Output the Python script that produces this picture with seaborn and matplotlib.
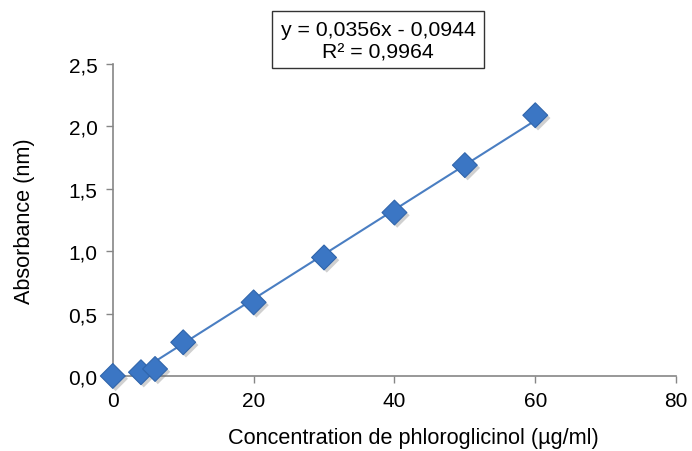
import numpy as np
import pandas as pd
import matplotlib.pyplot as plt
import matplotlib.patheffects as pe
from matplotlib.patches import Rectangle
from matplotlib.ticker import FuncFormatter
import seaborn as sns

concentration = [0, 4, 6, 10, 20, 30, 40, 50, 60]
absorbance = [0.0, 0.03, 0.056, 0.27, 0.59, 0.95, 1.31, 1.69, 2.09]
equation = 'y = 0,0356x - 0,0944\nR² = 0,9964'

df = pd.DataFrame({'conc': concentration, 'abs': absorbance})

sns.set_style('white', {'text.color': 'black', 'axes.labelcolor': 'black',
                        'xtick.color': 'black', 'ytick.color': 'black'})
plt.rcParams['font.family'] = ['Liberation Sans', 'DejaVu Sans']

fig = plt.figure(figsize=(6.92, 4.52), dpi=100)
ax = fig.add_axes([0.163, 0.166, 0.814, 0.690])

# trend line (least squares fit, like the Excel trendline)
sns.regplot(data=df, x='conc', y='abs', ax=ax, ci=None, scatter=False,
            line_kws={'color': '#4a7ec2', 'lw': 1.5, 'zorder': 2})

sns.scatterplot(data=df, x='conc', y='abs', ax=ax, marker='D', s=160,
                color='#3b76c4', edgecolor='#3065ab', linewidth=0.8, zorder=3,
                clip_on=False)
ax.collections[-1].set_path_effects([
    pe.SimplePatchShadow(offset=(2, -2), alpha=0.3, shadow_rgbFace='#666666'),
    pe.Normal()])

ax.set_xlim(0, 80)
ax.set_ylim(0, 2.5)
ax.set_xticks([0, 20, 40, 60, 80])
ax.set_yticks(np.arange(0, 2.51, 0.5))
ax.yaxis.set_major_formatter(FuncFormatter(lambda v, p: f'{v:.1f}'.replace('.', ',')))

ax.set_xlabel('Concentration de phloroglicinol (µg/ml)', fontsize=15.6, labelpad=12)
ax.set_ylabel('Absorbance (nm)', fontsize=15.6, labelpad=24)
ax.xaxis.label.set_x(0.533)
ax.tick_params(axis='both', labelsize=15, length=5, width=1, color='#868686',
               labelcolor='black', direction='out', bottom=True, left=True, pad=6)

sns.despine(ax=ax)
for side in ['left', 'bottom']:
    ax.spines[side].set_color('#868686')
    ax.spines[side].set_linewidth(1.2)

# equation box
fig.patches.append(Rectangle((272 / 692, 1 - 69 / 452), 212 / 692, 57 / 452,
                             transform=fig.transFigure, fc='white', ec='#333333', lw=1))
fig.text(378 / 692, 1 - 42 / 452, equation, ha='center', va='center', fontsize=15.3,
         linespacing=1.2, color='black')

fig.savefig('out.png', dpi=100)
